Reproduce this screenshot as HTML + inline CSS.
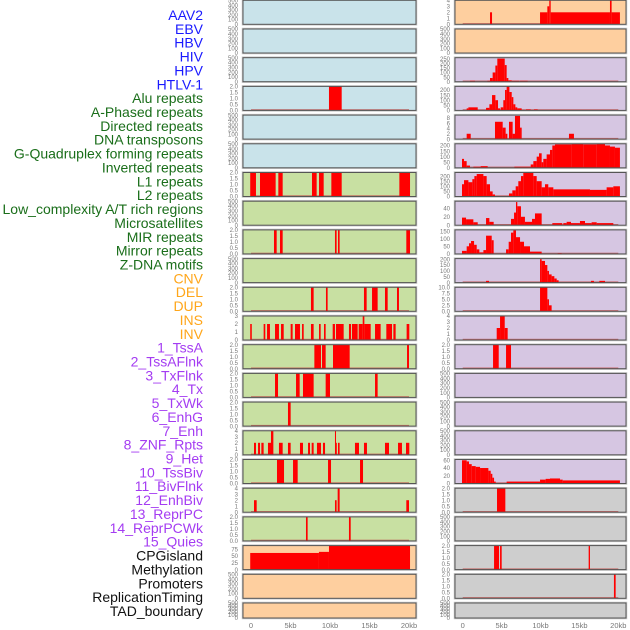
<!DOCTYPE html>
<html><head><meta charset="utf-8">
<style>
html,body{margin:0;padding:0;background:#fff;width:630px;height:630px;overflow:hidden}
svg{display:block}
.lbl{font-family:"Liberation Sans",sans-serif;font-size:14px}
.tk{font-family:"Liberation Sans",sans-serif;font-size:6px;fill:#777}
.xt{font-family:"Liberation Sans",sans-serif;font-size:7.5px;fill:#777}
</style></head>
<body>
<svg id="chart" width="630" height="630" viewBox="0 0 630 630"></svg>
<script>
// ---------- data ----------
const trackLabels = ["AAV2","EBV","HBV","HIV","HPV","HTLV-1","Alu repeats","A-Phased repeats","Directed repeats","DNA transposons","G-Quadruplex forming repeats","Inverted repeats","L1 repeats","L2 repeats","Low_complexity A/T rich regions","Microsatellites","MIR repeats","Mirror repeats","Z-DNA motifs","CNV","DEL","DUP","INS","INV","1_TssA","2_TssAFlnk","3_TxFlnk","4_Tx","5_TxWk","6_EnhG","7_Enh","8_ZNF_Rpts","9_Het","10_TssBiv","11_BivFlnk","12_EnhBiv","13_ReprPC","14_ReprPCWk","15_Quies","CPGisland","Methylation","Promoters","ReplicationTiming","TAD_boundary"];
const labelGroups = [6,13,5,15,5];
const groupColors = ["#1a1aff","#1a6e1a","#ffa61a","#a43cf2","#111111"];
const xTicks = [0,5,10,15,20];
const xTickLabels = ["0","5kb","10kb","15kb","20kb"];

// middle column: per-panel y max, tick values, and segments [startKb,endKb,value]
const midYMax = [500,500,500,2,500,500,2,500,2,500,2,3,2,2,2,4,2,4,2,88,500,500];
const midTicks = [];
const midSegs = [
 [],[],[],
 [[9.87,11.48,2]],
 [],[],
 [[-0.1,0.63,2],[1.14,3.12,2],[3.46,4.01,2],[7.72,8.31,2],[8.61,9.2,2],[10.17,11.48,2],[18.78,20.13,2]],
 [],
 [[2.91,3.25,2],[3.67,4.01,2],[10.63,10.84,2],[11.01,11.22,2],[19.66,20.13,2]],
 [],
 [[7.59,7.93,2],[9.49,9.7,2],[14.3,14.64,2],[15.32,16.03,2],[16.96,17.3,2],[18.48,18.73,2]],
 [[-0.1,0.1,2],[1.6,1.81,2],[2.03,2.4,2],[3.04,3.54,2],[3.8,4.14,2],[5.02,5.27,2],[5.57,6.2,2],[6.46,6.67,2],[7.59,7.93,2],[8.61,8.82,2],[9.24,9.45,2],[10.34,10.63,2],[10.76,11.73,2],[12.4,12.66,2],[12.78,13.5,2],[13.63,14.14,2],[14.14,14.35,3],[14.35,15.15,2],[15.7,16.41,2],[17.13,17.85,2],[18.02,18.31,2],[19.7,20.04,2]],
 [[8.02,8.86,2],[8.99,9.45,2],[10.38,12.49,2],[19.75,20.0,2]],
 [[3.04,3.42,2],[5.7,6.16,2],[6.58,7.93,2],[9.45,10.0,2],[15.7,16.03,2]],
 [[4.68,5.02,2]],
 [[0.38,0.63,2],[0.89,1.14,2],[1.31,1.6,2],[2.15,2.53,2],[2.53,2.83,4],[3.54,4.01,2],[4.68,5.02,2],[6.2,6.58,2],[7.22,7.47,2],[7.68,7.93,2],[8.35,8.86,2],[9.11,9.37,2],[10.63,10.76,4],[10.76,10.84,2],[11.01,11.22,2],[13.16,13.67,2],[14.3,14.68,2],[16.96,17.47,2],[18.61,19.11,2],[19.62,20.04,2]],
 [[3.29,4.18,2],[5.32,5.91,2],[9.75,10.13,2],[13.8,14.18,2]],
 [[0.38,0.72,2],[10.63,10.84,2],[10.97,11.22,4],[19.66,20.0,2]],
 [[6.96,7.17,2],[12.4,12.62,2]],
 [[-0.1,8.6,61],[8.6,9.87,65],[9.87,20.13,88]],
 [],[]
];
const midBg = ["#c9e3ea","#c9e3ea","#c9e3ea","#c9e3ea","#c9e3ea","#c9e3ea","#c8e0a2","#c8e0a2","#c8e0a2","#c8e0a2","#c8e0a2","#c8e0a2","#c8e0a2","#c8e0a2","#c8e0a2","#c8e0a2","#c8e0a2","#c8e0a2","#c8e0a2","#fecf9f","#fecf9f","#fecf9f"];

// right column
const rightYMax = [4,500,260,235,9,215,235,57,158,205,10,4,2,500,500,500,62,2,500,2,2,500];
const rightSegs = [
 [[3.51,3.77,2],[9.94,10.88,2],[10.88,11.13,3],[11.13,11.31,4],[11.31,18.93,2],[18.93,19.14,4],[19.14,20.21,2]],
 [],
 [[0.94,1.58,10],[3.17,3.51,10],[3.51,3.85,40],[3.85,4.2,100],[4.2,4.45,175],[4.45,5.4,250],[5.4,5.65,180],[5.65,5.87,40],[5.87,6.3,15],[6.3,7.28,10],[7.37,8.35,10]],
 [[0.51,0.73,20],[0.73,1.93,30],[3.0,3.43,25],[3.43,3.77,60],[3.77,4.2,150],[4.2,4.54,100],[4.54,4.8,20],[4.88,5.22,30],[5.22,5.44,100],[5.44,5.65,200],[5.65,6.0,235],[6.0,6.3,180],[6.3,6.51,130],[6.51,6.77,60],[6.77,7.02,30],[7.02,7.58,20],[8.14,8.74,10],[9.16,9.64,10]],
 [[0.51,1.03,2],[4.15,5.14,6.5],[5.14,5.52,4.3],[5.52,5.74,2],[5.95,6.42,6.5],[6.42,6.72,2],[6.72,7.37,8.7],[7.37,7.58,4.3],[13.66,14.3,2]],
 [[-0.09,0.17,80],[0.17,0.51,60],[0.51,0.94,20],[1.37,2.31,10],[2.31,3.21,15],[6.64,8.74,10],[8.74,9.08,30],[9.08,9.51,60],[9.51,9.81,100],[9.81,10.15,130],[10.15,10.36,50],[10.36,10.79,80],[10.79,11.22,120],[11.22,11.52,160],[11.52,11.86,200],[11.86,14.0,210],[14.0,15.5,215],[15.5,17.22,210],[17.22,18.29,215],[18.29,18.93,200],[18.93,19.57,190],[19.57,20.21,180]],
 [[-0.09,0.17,120],[0.17,0.73,160],[0.73,1.24,140],[1.24,1.5,170],[1.5,1.8,200],[1.8,2.66,220],[2.66,3.08,200],[3.08,3.51,120],[3.51,3.85,50],[3.85,4.15,20],[5.95,6.38,30],[6.38,6.81,60],[6.81,7.15,100],[7.15,7.49,150],[7.49,7.79,200],[7.79,9.08,230],[9.08,9.51,200],[9.51,10.15,150],[10.15,10.58,90],[10.58,11.0,120],[11.0,11.65,90],[11.65,16.36,70],[16.36,18.5,65],[18.5,19.36,90],[19.36,20.21,100]],
 [[-0.09,0.43,18],[0.43,1.37,14],[1.37,1.93,7],[3.0,3.43,17],[3.43,3.98,8],[6.21,6.6,15],[6.6,6.85,30],[6.85,7.02,55],[7.02,7.49,45],[7.49,8.0,20],[8.0,8.91,8],[8.91,9.29,15],[9.29,10.15,28],[11.52,12.8,5],[12.93,13.36,5],[13.36,13.92,8],[13.92,15.07,5],[15.07,15.72,10],[15.72,16.57,5],[16.57,17.22,7],[17.22,19.36,5]],
 [[-0.09,0.51,20],[0.51,0.81,50],[0.81,1.07,70],[1.07,1.46,85],[1.46,1.8,60],[1.8,2.14,30],[2.14,2.66,10],[2.66,3.0,25],[3.0,3.73,120],[3.73,3.98,90],[5.57,5.91,30],[5.91,6.21,80],[6.21,6.51,140],[6.51,6.85,155],[6.85,7.37,110],[7.37,7.88,80],[7.88,8.65,50],[8.65,10.15,15],[12.21,12.72,5]],
 [[3.0,3.38,15],[9.94,10.15,200],[10.15,10.58,185],[10.58,10.88,150],[10.88,11.09,100],[11.09,11.43,70],[11.43,11.78,55],[11.78,12.08,35],[12.08,12.33,20],[16.49,16.87,15],[17.56,18.29,15]],
 [[9.94,10.88,10],[10.88,11.09,5],[11.09,11.43,2.5]],
 [[4.37,4.8,2],[4.8,5.4,4],[5.4,5.78,2]],
 [[3.9,4.63,2],[5.57,6.21,2]],
 [],[],[],
 [[-0.09,0.51,60],[0.51,0.81,57],[0.81,1.16,50],[1.16,1.67,45],[1.67,2.23,43],[2.23,3.3,40],[3.3,3.6,33],[3.6,3.81,25],[3.81,4.03,15],[4.03,4.24,5],[5.65,9.94,5],[9.94,10.66,10],[10.66,11.22,12],[11.22,12.51,13],[12.51,12.85,10],[12.85,20.21,8]],
 [[4.41,5.48,2]],
 [],
 [[4.03,4.67,2],[4.8,5.01,2],[16.19,16.36,2]],
 [[19.44,19.66,2]],
 []
];
const rightBg = ["#fecf9f","#fecf9f","#d6c6e2","#d6c6e2","#d6c6e2","#d6c6e2","#d6c6e2","#d6c6e2","#d6c6e2","#d6c6e2","#d6c6e2","#d6c6e2","#d6c6e2","#d6c6e2","#d6c6e2","#d6c6e2","#d6c6e2","#cecece","#cecece","#cecece","#cecece","#cecece"];

// tick sets keyed by y max
const tickSets = {
 "500":[0,100,200,300,400,500],"2":[0,0.5,1,1.5,2],"3":[0,1,2,3],"4":[0,1,2,3,4],
 "88":[0,25,50,75],"260":[0,50,100,150,200,250],"235":[0,50,100,150,200],"215":[0,50,100,150,200],
 "9":[0,2,4,6,8],"57":[0,20,40],"158":[0,50,100,150],"205":[0,50,100,150,200],"10":[0,2.5,5,7.5,10],"62":[0,20,40,60]
};
const tickFmt = {"2":1,"10":1};

// ---------- drawing ----------
const NS="http://www.w3.org/2000/svg";
const svg=document.getElementById('chart');
function mk(tag,attrs,parent){const e=document.createElementNS(NS,tag);for(const k in attrs)e.setAttribute(k,attrs[k]);(parent||svg).appendChild(e);return e;}

// labels
let li=0;
labelGroups.forEach((n,g)=>{
  for(let k=0;k<n;k++){
    const t=mk('text',{x:203,y:15+13.86*li+5,'text-anchor':'end','class':'lbl',fill:groupColors[g]});
    t.textContent=trackLabels[li];
    
    
    li++;
  }
});

const ROWS=22, ROWH=28.7;
function panelTop(i){return 0.3+ROWH*i;}
function panelH(i){return i===ROWS-1?15:24;}

function drawColumn(colName,left,right,x0,pxPerKb,ymaxArr,segsArr,bgArr){
  const xs=kb=>x0+kb*pxPerKb;
  for(let i=0;i<ROWS;i++){
    const top=panelTop(i),h=panelH(i),bot=top+h;
    const g=mk('g',{});
    
    
    mk('rect',{x:left-0.5,y:top-0.5,width:right-left+1,height:h+1,fill:'none',stroke:'#c8c8c8','stroke-width':1.5},g);
    mk('rect',{x:left,y:top,width:right-left,height:h,fill:bgArr[i]},g);
    const ymax=ymaxArr[i];
    const ys=v=>bot-(v/ymax)*h;
    const segs=segsArr[i];
    if(segs.length){
      mk('rect',{x:xs(0),y:bot-1.2,width:xs(20)-xs(0),height:1.2,fill:'#c0504d',opacity:0.8},g);
    }
    segs.forEach(s=>{
      const r=mk('rect',{x:xs(s[0]),y:ys(s[2]),width:Math.max(0.8,xs(s[1])-xs(s[0])),height:bot-ys(s[2]),fill:'#ff0000'},g);
      
      
    });
    mk('rect',{x:left,y:top,width:right-left,height:h,fill:'none',stroke:'#555','stroke-width':1},g);
    const ticks=tickSets[String(ymax)]||[0,ymax];
    const dec=tickFmt[String(ymax)]||0;
    ticks.forEach(v=>{
      const t=mk('text',{x:left-5,y:Math.min(ys(v)+2.2,bot+2.5),'text-anchor':'end','class':'tk'},g);
      t.textContent=v.toFixed(dec);
      
      
    });
  }
  xTicks.forEach((v,k)=>{
    const t=mk('text',{x:xs(v),y:628,'text-anchor':'middle','class':'xt'});
    t.textContent=xTickLabels[k];
    
    
  });
}
drawColumn('middle',243,416,251,7.9,midYMax,midSegs,midBg);
drawColumn('right',455,626,462.7,7.78,rightYMax,rightSegs,rightBg);
</script>
</body></html>
